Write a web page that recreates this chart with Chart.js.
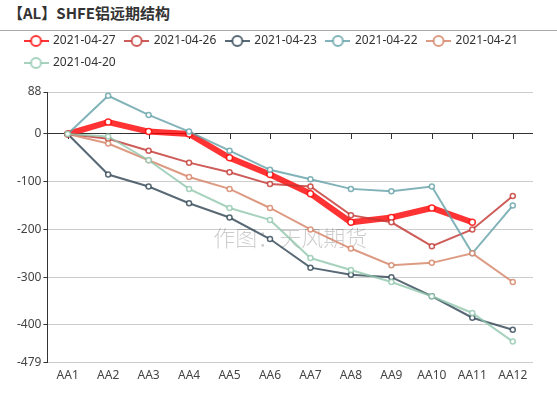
<!DOCTYPE html>
<html>
<head>
<meta charset="utf-8">
<script src="https://cdn.jsdelivr.net/npm/chart.js@4.4.0/dist/chart.umd.min.js"></script>
<style>
  html, body { margin: 0; padding: 0; background: #fff; }
  #wrap { position: relative; width: 557px; height: 393px; overflow: hidden; }
  #title { position: absolute; left: 8px; top: 2px; font: bold 15px "Noto Sans CJK SC", sans-serif; color: #333; line-height: 22px; }
  #rule { position: absolute; left: 0; top: 30px; width: 557px; height: 1px; background: #aaa; }
  #box { position: absolute; left: 0; top: 25px; width: 557px; height: 368px; }
</style>
</head>
<body>
<div id="wrap">
  <div id="title">【AL】SHFE铝远期结构</div>
  <div id="rule"></div>
  <div id="box"><canvas id="chart"></canvas></div>
</div>
<script>
document.addEventListener('DOMContentLoaded', () => {

    Chart.defaults.font.family = "'Noto Sans', sans-serif";
    Chart.defaults.font.size = 12;

    // --- data ---
    const categories = ['AA1', 'AA2', 'AA3', 'AA4', 'AA5', 'AA6', 'AA7', 'AA8', 'AA9', 'AA10', 'AA11', 'AA12'];
    const dates = ['2021-04-27', '2021-04-26', '2021-04-23', '2021-04-22', '2021-04-21', '2021-04-20'];
    const s0427 = [0, 25, 5, 0, -50, -85, -125, -185, -175, -155, -185, null];
    const s0426 = [0, -10, -35, -60, -80, -105, -110, -170, -185, -235, -200, -130];
    const s0423 = [0, -85, -110, -145, -175, -220, -280, -295, -300, -340, -385, -410];
    const s0422 = [0, 80, 40, 5, -35, -75, -95, -115, -120, -110, -250, -150];
    const s0421 = [0, -20, -55, -90, -115, -155, -200, -240, -275, -270, -250, -310];
    const s0420 = [0, -5, -55, -115, -155, -180, -260, -285, -310, -340, -375, -435];
    const series = [s0427, s0426, s0423, s0422, s0421, s0420];
    const yTicks = [-479, -400, -300, -200, -100, 0, 88];
    const watermark = '作图：天风期货';

    const colors = [
        'rgba(255, 0, 0, 0.8)',
        'rgba(194, 53, 49, 0.8)',
        'rgba(47, 69, 84, 0.8)',
        'rgba(97, 160, 168, 0.8)',
        'rgba(212, 130, 101, 0.8)',
        'rgba(145, 199, 174, 0.8)'
    ];

    // legend icon: short line with an empty circle
    function legendIcon(color) {
        const c = document.createElement('canvas');
        c.width = 25; c.height = 14;
        const g = c.getContext('2d');
        g.strokeStyle = color;
        g.lineWidth = 2;
        g.beginPath(); g.moveTo(0, 7); g.lineTo(25, 7); g.stroke();
        g.beginPath(); g.arc(12.5, 7, 5, 0, Math.PI * 2);
        g.fillStyle = '#fff'; g.fill(); g.stroke();
        return c;
    }
    const icons = colors.map(legendIcon);

    // extra space under the legend
    const legendGap = {
        id: 'legendGap',
        beforeInit(chart) {
            const fit = chart.legend.fit;
            chart.legend.fit = function () { fit.call(this); this.height += 13; };
        }
    };

    // watermark + small ticks on the zero line
    const decorations = {
        id: 'decorations',
        beforeDatasetsDraw(chart) {
            const { ctx, chartArea, scales: { x, y } } = chart;
            ctx.save();
            ctx.font = '300 22px "Noto Sans CJK SC", sans-serif';
            ctx.fillStyle = 'rgba(0, 0, 0, 0.2)';
            ctx.textAlign = 'center';
            ctx.textBaseline = 'middle';
            ctx.fillText(watermark, (chartArea.left + chartArea.right) / 2,
                chartArea.top + (chartArea.bottom - chartArea.top) * 0.54);

            const y0 = Math.round(y.getPixelForValue(0));
            ctx.strokeStyle = '#333';
            ctx.lineWidth = 1;
            categories.forEach((c, i) => {
                const px = Math.round(x.getPixelForValue(i)) + 0.5;
                ctx.beginPath();
                ctx.moveTo(px, y0);
                ctx.lineTo(px, y0 + 5);
                ctx.stroke();
            });
            ctx.restore();
        }
    };

    const datasets = dates.map((d, i) => ({
        label: d,
        data: series[i],
        borderColor: colors[i],
        backgroundColor: colors[i],
        borderWidth: i === 0 ? 6 : 2,
        pointRadius: i === 0 ? 3 : 2.5,
        pointBorderWidth: 1.5,
        pointBackgroundColor: '#fff',
        pointBorderColor: colors[i],
        tension: 0,
        order: dates.length - i
    }));

    new Chart(document.getElementById('chart'), {
        type: 'line',
        data: { labels: categories, datasets },
        options: {
            responsive: true,
            maintainAspectRatio: false,
            animation: false,
            layout: { padding: { left: 15, right: 24, top: 0, bottom: 4 } },
            plugins: {
                tooltip: { enabled: false },
                legend: {
                    position: 'top',
                    align: 'start',
                    labels: {
                        usePointStyle: true,
                        pointStyleWidth: 22,
                        padding: 10,
                        color: '#333',
                        font: { size: 12 },
                        generateLabels: (chart) => chart.data.datasets.map((ds, i) => ({
                            text: ds.label,
                            pointStyle: icons[i],
                            fillStyle: colors[i],
                            strokeStyle: colors[i],
                            lineWidth: 0,
                            hidden: false,
                            datasetIndex: i,
                            fontColor: '#333'
                        }))
                    }
                }
            },
            scales: {
                x: {
                    offset: true,
                    grid: { display: false, drawTicks: false },
                    border: { display: false },
                    ticks: { padding: 6, color: '#444', autoSkip: false, maxRotation: 0 }
                },
                y: {
                    min: -479,
                    max: 88,
                    afterBuildTicks: (scale) => { scale.ticks = yTicks.map(v => ({ value: v })); },
                    grid: {
                        color: (c) => (c.tick && c.tick.value === 0 ? '#333' : '#ccc'),
                        tickColor: '#333',
                        tickLength: 4
                    },
                    border: { color: '#333' },
                    ticks: { padding: 2, color: '#444', autoSkip: false }
                }
            }
        },
        plugins: [legendGap, decorations]
    });
});
</script>
</body>
</html>
